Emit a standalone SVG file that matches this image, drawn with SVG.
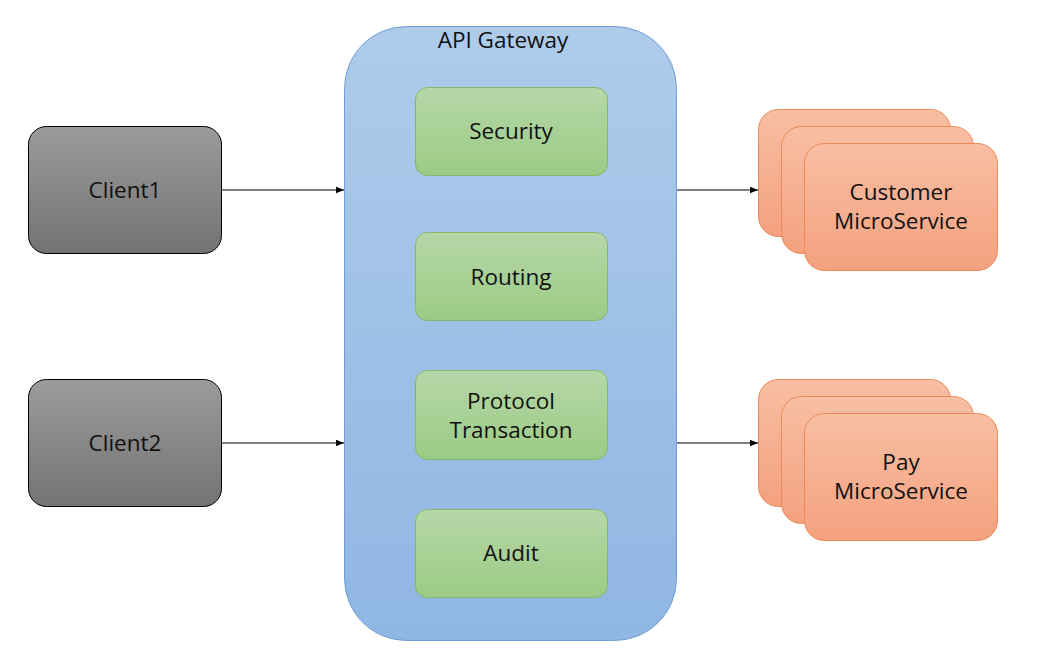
<svg xmlns="http://www.w3.org/2000/svg" width="1040" height="658" viewBox="0 0 1040 658">
<defs>
<linearGradient id="gGray" x1="0" y1="0" x2="0" y2="1"><stop offset="0" stop-color="#9b9b9b"/><stop offset="1" stop-color="#737373"/></linearGradient>
<linearGradient id="gBlue" x1="0" y1="0" x2="0" y2="1"><stop offset="0" stop-color="#aecbea"/><stop offset="1" stop-color="#90b6e3"/></linearGradient>
<linearGradient id="gGreen" x1="0" y1="0" x2="0" y2="1"><stop offset="0" stop-color="#b6d7a8"/><stop offset="1" stop-color="#9bcb85"/></linearGradient>
<linearGradient id="gOrange" x1="0" y1="0" x2="0" y2="1"><stop offset="0" stop-color="#f8bea3"/><stop offset="1" stop-color="#f4a17f"/></linearGradient>
<marker id="arr" viewBox="0 0 10 10" refX="10" refY="5" markerWidth="8" markerHeight="8" markerUnits="userSpaceOnUse" orient="auto"><path d="M0,1 L10,5 L0,9 z" fill="#000"/></marker>
</defs>
<style>
text{font-family:"Open Sans","Noto Sans",sans-serif;font-size:22.5px;fill:#111;text-anchor:middle}
.client{fill:url(#gGray);stroke:#000;stroke-width:1}
.gw{fill:url(#gBlue);stroke:#6f9ed4;stroke-width:1}
.mod{fill:url(#gGreen);stroke:#83b86a;stroke-width:1}
.svc{fill:url(#gOrange);stroke:#ee8a56;stroke-width:1}
.conn{stroke:#000;stroke-width:1;fill:none;marker-end:url(#arr)}
</style>
<rect width="1040" height="658" fill="#fff"/>
<g id="client1"><rect class="client" x="28.5" y="126.5" width="193" height="127" rx="18"/><text x="125" y="198">Client1</text></g>
<g id="client2"><rect class="client" x="28.5" y="379.5" width="193" height="127" rx="18"/><text x="125" y="451">Client2</text></g>
<g id="gateway"><rect class="gw" x="344.5" y="26.5" width="332" height="614" rx="62"/><text x="503" y="48">API Gateway</text></g>
<g id="security"><rect class="mod" x="415.5" y="87.5" width="192" height="88" rx="12"/><text x="511" y="139">Security</text></g>
<g id="routing"><rect class="mod" x="415.5" y="232.5" width="192" height="88" rx="12"/><text x="511" y="285">Routing</text></g>
<g id="protocol"><rect class="mod" x="415.5" y="370.5" width="192" height="89" rx="12"/><text x="511" y="409">Protocol</text><text x="511" y="438">Transaction</text></g>
<g id="audit"><rect class="mod" x="415.5" y="509.5" width="192" height="88" rx="12"/><text x="511" y="561">Audit</text></g>
<g id="customer">
<rect class="svc" x="758.5" y="109.5" width="192" height="127" rx="20"/>
<rect class="svc" x="781.5" y="126.5" width="192" height="127" rx="20"/>
<rect class="svc" x="804.5" y="143.5" width="193" height="127" rx="20"/>
<text x="901" y="200">Customer</text><text x="901" y="229">MicroService</text></g>
<g id="pay">
<rect class="svc" x="758.5" y="379.5" width="192" height="127" rx="20"/>
<rect class="svc" x="781.5" y="396.5" width="192" height="127" rx="20"/>
<rect class="svc" x="804.5" y="413.5" width="193" height="127" rx="20"/>
<text x="901" y="470">Pay</text><text x="901" y="499">MicroService</text></g>
<g id="connectors">
<line class="conn" x1="222" y1="190" x2="344" y2="190"/>
<line class="conn" x1="222" y1="443" x2="344" y2="443"/>
<line class="conn" x1="677" y1="190" x2="758" y2="190"/>
<line class="conn" x1="677" y1="443" x2="758" y2="443"/>
</g>
</svg>
